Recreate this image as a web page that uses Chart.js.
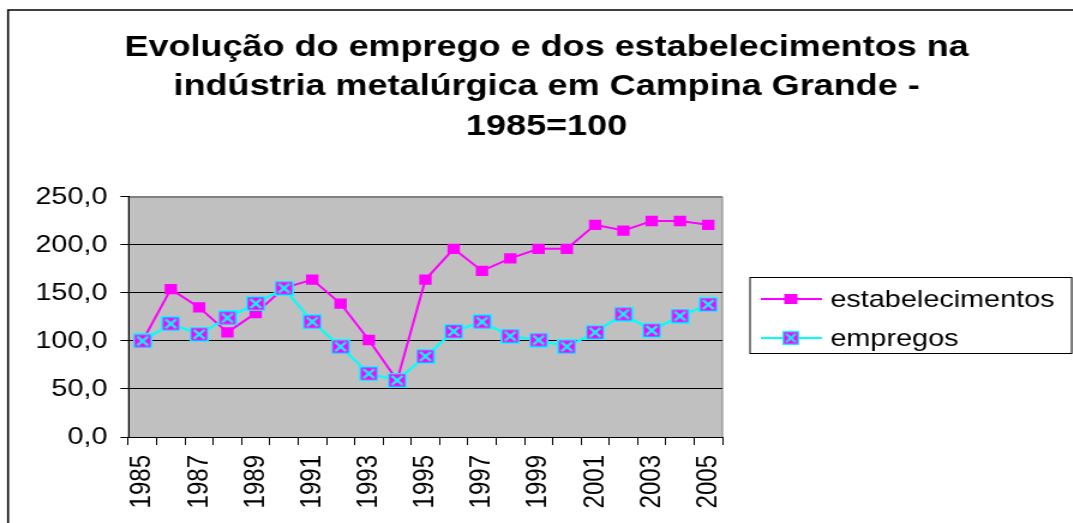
<!DOCTYPE html>
<html>
<head>
<meta charset="utf-8">
<script src="https://cdn.jsdelivr.net/npm/chart.js@4.4.1/dist/chart.umd.min.js"></script>
<style>
  html, body { margin: 0; padding: 0; background: #fff; overflow: hidden; }
  #wrap { width: 894px; height: 523px; transform: scale(1.2, 1); transform-origin: 0 0; }
</style>
</head>
<body>
<div id="wrap"><canvas id="chart" width="894" height="523"></canvas></div>
<script>
const years = ['1985', '1986', '1987', '1988', '1989', '1990', '1991', '1992', '1993', '1994', '1995',
    '1996', '1997', '1998', '1999', '2000', '2001', '2002', '2003', '2004', '2005'];
const estabelecimentos = [100, 154, 135, 109, 129, 155, 164, 139, 101, 59, 164,
    196, 173, 186, 196, 196, 221, 215, 225, 225, 221];
const empregos = [100, 118, 107, 124, 139, 155, 120, 94, 66, 59, 84,
    110, 120, 105, 101, 94, 109, 128, 111, 126, 138];
const yTicks = [0, 50, 100, 150, 200, 250];
const titleLines = ['Evolução do emprego e dos estabelecimentos na',
    'indústria metalúrgica em Campina Grande -', '1985=100'];

const FONT = '"Liberation Sans", Arial, sans-serif';

// magenta box with cyan frame and cyan cross (empregos marker)
function crossMarker(w, h) {
    const c = document.createElement('canvas');
    c.width = w;
    c.height = h;
    const g = c.getContext('2d');
    g.fillStyle = '#ff00ff';
    g.fillRect(0, 0, w, h);
    g.strokeStyle = '#00ffff';
    g.lineWidth = 1.4;
    g.strokeRect(0.7, 0.7, w - 1.4, h - 1.4);
    g.lineWidth = 2.4;
    g.beginPath();
    g.moveTo(3.5, 3); g.lineTo(w - 3.5, h - 3);
    g.moveTo(w - 3.5, 3); g.lineTo(3.5, h - 3);
    g.stroke();
    return c;
}
const empMarker = crossMarker(16, 15);

const frame = {
    id: 'frame',
    beforeDraw(chart) {
        const {ctx, chartArea: a} = chart;
        ctx.save();
        ctx.fillStyle = '#c0c0c0';
        ctx.fillRect(a.left, a.top, a.right - a.left, a.bottom - a.top);
        ctx.strokeStyle = '#808080';
        ctx.lineWidth = 1;
        ctx.strokeRect(a.left, a.top + 0.5, a.right - a.left, a.bottom - a.top);
        // outer chart border (left and top only visible)
        ctx.strokeStyle = '#000';
        ctx.lineWidth = 1.6;
        ctx.beginPath();
        ctx.moveTo(6.7, 523);
        ctx.lineTo(6.7, 10);
        ctx.lineTo(894, 10);
        ctx.stroke();
        ctx.restore();
    }
};

const boxLegend = {
    id: 'boxLegend',
    afterDraw(chart) {
        const ctx = chart.ctx;
        ctx.save();
        ctx.strokeStyle = '#000';
        ctx.lineWidth = 1;
        ctx.strokeRect(625, 277.5, 268, 76);
        const rows = [299, 338];
        chart.data.datasets.forEach((ds, i) => {
            const y = rows[i];
            ctx.strokeStyle = ds.borderColor;
            ctx.lineWidth = ds.borderWidth;
            ctx.beginPath();
            ctx.moveTo(634, y);
            ctx.lineTo(685, y);
            ctx.stroke();
            if (ds.pointStyle instanceof HTMLCanvasElement) {
                ctx.drawImage(ds.pointStyle, 659 - 7, y - 7, 14, 14);
            } else {
                ctx.fillStyle = ds.pointBackgroundColor;
                ctx.fillRect(659 - 5.5, y - 5, 11, 10);
            }
            ctx.fillStyle = '#000';
            ctx.font = '24px ' + FONT;
            ctx.textBaseline = 'middle';
            ctx.textAlign = 'left';
            ctx.fillText(ds.label, 692, y + 1);
        });
        ctx.restore();
    }
};

new Chart(document.getElementById('chart'), {
    type: 'line',
    data: {
        labels: years,
        datasets: [
            {
                label: 'estabelecimentos',
                data: estabelecimentos,
                borderColor: '#ff00ff',
                borderWidth: 2,
                pointStyle: 'rect',
                pointRadius: 7.3,
                pointBorderWidth: 0,
                pointBackgroundColor: '#ff00ff',
                pointBorderColor: '#ff00ff',
                tension: 0,
                order: 1
            },
            {
                label: 'empregos',
                data: empregos,
                borderColor: '#00ffff',
                borderWidth: 2.2,
                pointStyle: empMarker,
                pointRadius: 8,
                tension: 0,
                order: 0
            }
        ]
    },
    options: {
        responsive: false,
        animation: false,
        devicePixelRatio: 1,
        layout: { padding: { left: 17, right: 0, top: 0, bottom: 0 } },
        plugins: {
            legend: { display: false },
            tooltip: { enabled: false },
            title: {
                display: true,
                text: titleLines,
                color: '#000',
                font: { family: FONT, size: 30, weight: 'bold', lineHeight: 1.313 },
                padding: { top: 28, bottom: 50.8 }
            }
        },
        scales: {
            x: {
                offset: true,
                grid: { offset: true, drawOnChartArea: false, color: '#000', tickColor: '#000', tickLength: 8 },
                border: { color: '#000', width: 1 },
                ticks: {
                    autoSkip: false,
                    minRotation: 90,
                    maxRotation: 90,
                    padding: 10,
                    color: '#000',
                    font: { family: FONT, size: 24 },
                    callback: (v, i) => (i % 2 === 0 ? years[i] : '')
                },
                afterFit: s => { s.height = 86; }
            },
            y: {
                min: 0,
                max: 250,
                afterBuildTicks: s => { s.ticks = yTicks.map(v => ({value: v})); },
                grid: {
                    color: c => (c.tick && c.tick.value === 250 ? '#808080' : '#000'),
                    tickColor: '#000',
                    tickLength: 6.7
                },
                border: { color: '#000', width: 1 },
                ticks: {
                    padding: 10.8,
                    color: '#000',
                    font: { family: FONT, size: 24 },
                    callback: v => v.toFixed(1).replace('.', ',')
                },
                afterFit: s => { s.width = 90; }
            },
            pad: {
                type: 'linear',
                position: 'right',
                min: 0,
                max: 1,
                grid: { display: false },
                border: { display: false },
                ticks: { display: false },
                afterFit: s => { s.width = 292; }
            }
        }
    },
    plugins: [frame, boxLegend]
});
</script>
</body>
</html>
